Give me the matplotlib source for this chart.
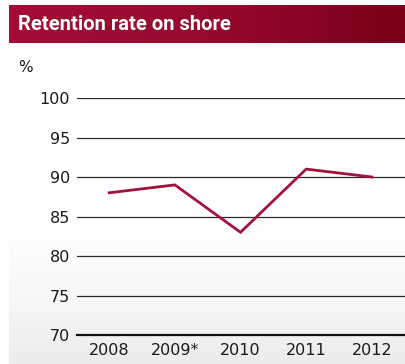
import numpy as np
import matplotlib
matplotlib.use("Agg")
import matplotlib.pyplot as plt
from matplotlib.colors import LinearSegmentedColormap

years = ["2008", "2009*", "2010", "2011", "2012"]
retention = [88, 89, 83, 91, 90]
yticks = [70, 75, 80, 85, 90, 95, 100]

W, H = 406, 364
fig = plt.figure(figsize=(W / 100, H / 100), dpi=100)

def box(x0, y0, x1, y1):
    # pixel box (from top-left) -> figure fraction rect
    return [x0 / W, 1 - y1 / H, (x1 - x0) / W, (y1 - y0) / H]

# soft grey fade behind the lower part of the chart
bg = fig.add_axes(box(9, 44, W, H))
bg.axis("off")
fade = LinearSegmentedColormap.from_list(
    "fade", [(0, "#ffffff"), (0.55, "#ffffff"), (0.8, "#f7f7f7"), (1, "#ececec")])
bg.imshow(np.linspace(0, 1, 200).reshape(-1, 1), aspect="auto", cmap=fade, extent=[0, 1, 0, 1])

# title band
hdr = fig.add_axes(box(9, 5, W, 43))
hdr.axis("off")
band = LinearSegmentedColormap.from_list("band", ["#a50d36", "#960a2e", "#7a0019"])
hdr.imshow(np.linspace(0, 1, 300).reshape(1, -1), aspect="auto", cmap=band, extent=[0, 1, 0, 1])
hdr.set_xlim(0, 1)
hdr.set_ylim(0, 1)
hdr.text(9 / (W - 9), 0.48, "Retention rate on shore", color="white", fontsize=14.5,
         fontweight="bold", family=["Roboto", "DejaVu Sans"],
         va="center", ha="left")

ax = fig.add_axes(box(77, 98, W, 335))
ax.patch.set_alpha(0)
x = np.arange(len(years))
ax.plot(x, retention, color="#a3123c", lw=2, solid_joinstyle="miter", zorder=3)

ax.set_xlim(-0.49, 4.52)
ax.set_ylim(70, 100)
ax.set_yticks(yticks)
ax.set_xticks(x)
ax.set_xticklabels(years)
for y in yticks[1:]:
    ax.axhline(y, color="#2a2a2a", lw=0.9, zorder=1)
for s in ["top", "right", "left"]:
    ax.spines[s].set_visible(False)
ax.spines["bottom"].set_color("#111111")
ax.spines["bottom"].set_linewidth(1.6)
ax.tick_params(length=0, labelsize=11.5, colors="#1a1a1a")
ax.tick_params(axis="y", pad=5)
ax.tick_params(axis="x", pad=6)

fig.text(18 / W, 1 - 68 / H, "%", fontsize=11, color="#1a1a1a", va="center", ha="left")

fig.savefig("out.png", dpi=100)
